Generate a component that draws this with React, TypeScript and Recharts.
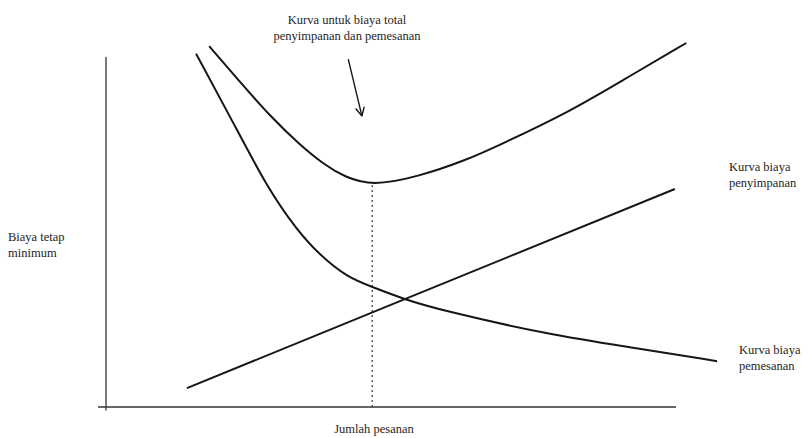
import React from "react";
import { LineChart, Line, XAxis, YAxis, ReferenceLine } from "recharts";

// Jumlah pesanan (Q) vs biaya
const totalQ = [1.81, 2.35, 2.88, 3.4, 3.84, 4.19, 4.67, 5.46, 6.33, 6.91, 8.09, 9.07, 10.18];
const totalCost = [10.31, 9.29, 8.31, 7.49, 6.91, 6.57, 6.32, 6.57, 7.06, 7.49, 8.4, 9.34, 10.4];

const orderQ = [1.58, 2.18, 2.84, 3.35, 3.75, 4.23, 4.67, 5.21, 5.86, 7.79, 9.19, 10.72];
const orderCost = [10.09, 8.29, 6.23, 5.06, 4.34, 3.71, 3.43, 3.09, 2.77, 2.06, 1.71, 1.31];

const holdQ = [1.42, 5.21, 9.98];
const holdCost = [0.54, 3.06, 6.23];

const optimumQ = 4.67;
const optimumCost = 6.37;

// arrow pointing at the total cost curve
const arrowTail = { x: 4.25, y: 9.94 };
const arrowTip = { x: 4.49, y: 8.31 };
const arrowWingL = { x: 4.38, y: 8.53 };
const arrowWingR = { x: 4.53, y: 8.58 };

const zip = (qs: number[], cs: number[]) => qs.map((q, i) => ({ q, c: cs[i] }));

const totalData = zip(totalQ, totalCost);
const orderData = zip(orderQ, orderCost);
const holdData = zip(holdQ, holdCost);

const ink = "#161616";
const font = "Liberation Serif";

// annotation texts: [x, baseline y, anchor, lines]
const notes: [number, number, "start" | "middle", string[]][] = [
  [347, 24, "middle", ["Kurva untuk biaya total", "penyimpanan dan pemesanan"]],
  [729, 171, "start", ["Kurva biaya", "penyimpanan"]],
  [739, 354, "start", ["Kurva biaya", "pemesanan"]],
  [8, 241, "start", ["Biaya tetap", "minimum"]],
  [374, 433, "middle", ["Jumlah pesanan"]],
];

export default function App() {
  return (
    <div style={{ position: "absolute", left: 0, top: 0, width: 808, height: 438, background: "#fff" }}>
      <LineChart width={808} height={438} margin={{ top: 4.5, right: 18, bottom: 13.5, left: 20.5 }}>
        <XAxis type="number" dataKey="q" domain={[-1.5, 12]} allowDataOverflow hide />
        <YAxis type="number" dataKey="c" domain={[-0.5, 11.5]} allowDataOverflow hide />
        {/* axes */}
        <ReferenceLine segment={[{ x: 0, y: -0.1 }, { x: 0, y: 10 }]} stroke="#333" strokeWidth={1.3} />
        <ReferenceLine segment={[{ x: -0.14, y: 0 }, { x: 10, y: 0 }]} stroke="#333" strokeWidth={1.3} />
        {/* optimum marker */}
        <ReferenceLine
          segment={[{ x: optimumQ, y: 0 }, { x: optimumQ, y: optimumCost }]}
          stroke="#333"
          strokeWidth={1.2}
          strokeDasharray="2 3"
        />
        <ReferenceLine segment={[arrowTail, arrowTip]} stroke={ink} strokeWidth={1.4} />
        <ReferenceLine segment={[arrowWingL, arrowTip]} stroke={ink} strokeWidth={1.4} />
        <ReferenceLine segment={[arrowWingR, arrowTip]} stroke={ink} strokeWidth={1.4} />
        <Line data={totalData} dataKey="c" type="basis" stroke={ink} strokeWidth={2} dot={false} isAnimationActive={false} />
        <Line data={orderData} dataKey="c" type="basis" stroke={ink} strokeWidth={2} dot={false} isAnimationActive={false} />
        <Line data={holdData} dataKey="c" type="linear" stroke={ink} strokeWidth={2} dot={false} isAnimationActive={false} />
      </LineChart>
      <svg width={808} height={438} style={{ position: "absolute", left: 0, top: 0, pointerEvents: "none" }}>
        {notes.map(([x, y, anchor, lines]) =>
          lines.map((l, i) => (
            <text key={l} x={x} y={y + i * 15.5} textAnchor={anchor} fontFamily={font} fontSize={12.5} fill="#1e1e1e">
              {l}
            </text>
          ))
        )}
      </svg>
    </div>
  );
}
